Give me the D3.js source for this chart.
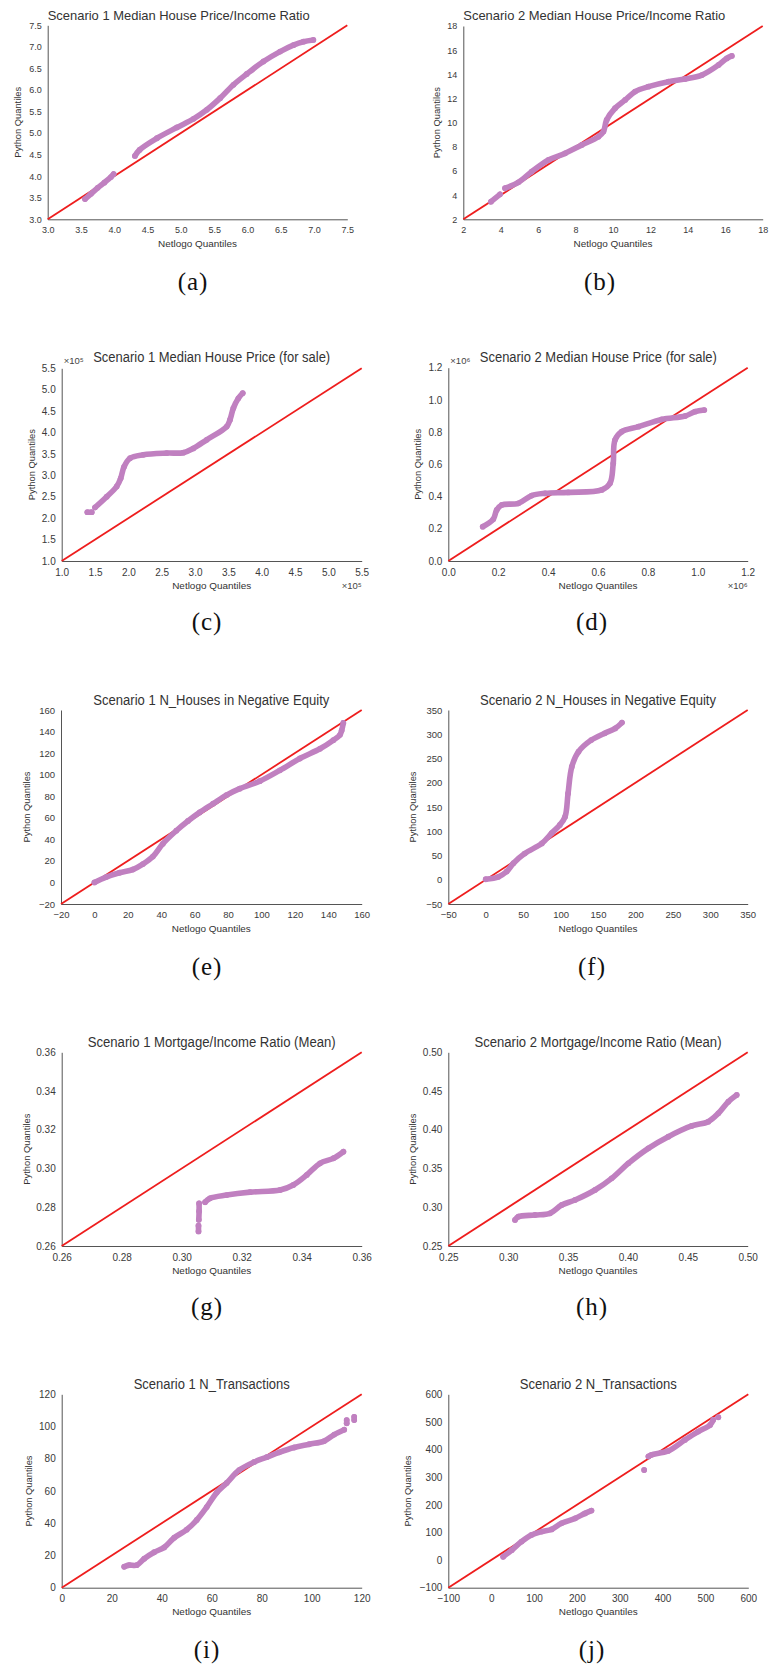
<!DOCTYPE html>
<html>
<head>
<meta charset="utf-8">
<script src="https://cdn.jsdelivr.net/npm/d3@7"></script>
<style>
body { margin: 0; background: #fff; }
svg { display: block; }
</style>
</head>
<body>
<div id="chart"></div>
<script>
// Q-Q points [netlogo quantile, python quantile], one inner array per unbroken run

// (a) Scenario 1 median house price / income ratio
var ratioS1 = [
  [[3.56,3.47],[3.65,3.59],[3.75,3.73],[3.85,3.85],[3.95,3.98],[3.99,4.05]],
  [[4.31,4.47],[4.38,4.61],[4.64,4.88],[4.94,5.13],[5.19,5.33],[5.39,5.54],[5.59,5.81],[5.79,6.12],
   [5.99,6.37],[6.24,6.66],[6.49,6.89],[6.69,7.04],[6.84,7.12],[6.99,7.16]]
];
// (b) Scenario 2 median house price / income ratio
var ratioS2 = [
  [[3.48,3.46],[3.96,4.07]],
  [[4.23,4.57],[4.94,5.06],[5.65,5.94],[6.55,6.91],[7.44,7.46],[8.33,8.15],[9.22,8.84],[9.49,9.26],
   [9.66,10.22],[10.11,11.19],[10.65,11.88],[11.18,12.57],[11.89,12.98],[12.96,13.39],[13.85,13.61],
   [14.75,13.94],[15.64,14.77],[16.08,15.32],[16.35,15.52]]
];
// (c) Scenario 1 median house price (for sale)
var priceS1 = [
  [[138500,214000],[145000,214000]],
  [[150000,225000],[167500,250000],[182500,274000],[188500,293000],[193500,320000],[202500,340000],
   [222500,348000],[257500,352000],[282500,353000],[297500,363000],[317500,383000],[347500,414000],
   [352500,430000],[357500,457000],[365000,480000],[371500,492000]]
];
// (d) Scenario 2 median house price (for sale)
var priceS2 = [
  [[138000,213000],[180000,259000],[194000,317000],[214000,348000],[281000,358000],[334000,406000],
   [388000,420000],[481000,426000],[615000,441000],[648000,482000],[661000,606000],[668000,751000],
   [695000,803000],[762000,834000],[855000,879000],[949000,900000],[989000,927000],[1026000,937000]]
];
// (e) Scenario 1 houses in negative equity
var negEqS1 = [
  [[0,0],[7,5],[15,9],[23,12],[29,17],[35,24],[41,36],[49,48],[56,57],[63,65],[71,73],[79,81],[87,87],
   [99,94],[111,104],[123,115],[135,124],[143,132],[147,137],[148,141],[149,148]]
];
// (f) Scenario 2 houses in negative equity
var negEqS2 = [
  [[0,1],[17,6],[28,17],[37,34],[52,54],[75,75],[88,96],[99,113],[106,130],[110,178],[115,233],
   [124,264],[141,288],[159,302],[173,312],[182,324]]
];
// (g) Scenario 1 mortgage / income ratio (mean)
var mortS1 = [
  [[0.3056,0.2675],[0.3056,0.2705]],
  [[0.3057,0.2735],[0.3058,0.2780],[0.3058,0.2820]],
  [[0.3078,0.2826],[0.3094,0.2846],[0.315,0.2863],[0.3228,0.2878],[0.3328,0.2889],[0.3372,0.2915],
   [0.3417,0.2967],[0.3461,0.3027],[0.3506,0.3053],[0.3539,0.3087]]
];
// (h) Scenario 2 mortgage / income ratio (mean)
var mortS2 = [
  [[0.3057,0.2836],[0.3085,0.2879],[0.3224,0.2900],[0.3349,0.2922],[0.3447,0.3029],[0.3558,0.3094],
   [0.3725,0.3223],[0.3864,0.3373],[0.4003,0.3567],[0.4170,0.3761],[0.4337,0.3911],[0.4532,0.4049],
   [0.4671,0.4105],[0.4755,0.4213],[0.4838,0.4363],[0.4908,0.4449]]
];
// (i) Scenario 1 transactions
var transS1 = [
  [[25,13],[27,14],[30,14],[33,18],[37,22],[41,25],[45,31],[50,36],[54,42],[58,50],[62,59],[66,65],
   [71,73],[77,78],[82,81],[87,84],[93,87],[99,89],[105,91],[109,95],[113,98]],
  [[114,102],[114,104]],
  [[117,104],[117,106]]
];
// (j) Scenario 2 transactions
var transS2 = [
  [[28,12],[48,36],[71,67],[94,91],[118,103],[141,111],[164,133],[196,151],[219,169],[234,179]],
  [[357,326]],
  [[367,375],[374,381],[413,395],[452,435],[483,465],[511,489],[518,507]],
  [[530,517]]
];

// tick values (same on both axes)
var ticksA = [3.0,3.5,4.0,4.5,5.0,5.5,6.0,6.5,7.0,7.5];
var ticksB = [2,4,6,8,10,12,14,16,18];
var ticksC = [100000,150000,200000,250000,300000,350000,400000,450000,500000,550000];
var ticksD = [0,200000,400000,600000,800000,1000000,1200000];
var ticksE = [-20,0,20,40,60,80,100,120,140,160];
var ticksF = [-50,0,50,100,150,200,250,300,350];
var ticksG = [0.26,0.28,0.30,0.32,0.34,0.36];
var ticksH = [0.25,0.30,0.35,0.40,0.45,0.50];
var ticksI = [0,20,40,60,80,100,120];
var ticksJ = [-100,0,100,200,300,400,500,600];

var titles = [
  "Scenario 1 Median House Price/Income Ratio",
  "Scenario 2 Median House Price/Income Ratio",
  "Scenario 1 Median House Price (for sale)",
  "Scenario 2 Median House Price (for sale)",
  "Scenario 1 N_Houses in Negative Equity",
  "Scenario 2 N_Houses in Negative Equity",
  "Scenario 1 Mortgage/Income Ratio (Mean)",
  "Scenario 2 Mortgage/Income Ratio (Mean)",
  "Scenario 1 N_Transactions",
  "Scenario 2 N_Transactions"
];
var captions = ["(a)","(b)","(c)","(d)","(e)","(f)","(g)","(h)","(i)","(j)"];

var f1 = d3.format(".1f"), f2 = d3.format(".2f"), fd = d3.format("d");

var panels = [
  {data: ratioS1, ticks: ticksA, fmt: f1, box: [47.7,25.3,347.3,219.3], tx: 47.7, ty: 20, anchor: "start", tlen: 262, tsize: 13, tick: 9, ylab: 18, cap: [193,290]},
  {data: ratioS2, ticks: ticksB, fmt: fd, box: [463.3,26,762.7,219.3], tx: 463.3, ty: 20, anchor: "start", tlen: 262, tsize: 13, tick: 9, ylab: 436.7, cap: [600,290]},
  {data: priceS1, ticks: ticksC, fmt: function(v) { return f1(v / 1e5); }, exp: "×10⁵", box: [61.7,368.3,361.7,561], tx: 211.7, ty: 362, anchor: "middle", tlen: 237, tsize: 14, tick: 10, ylab: 31.7, cap: [207,630]},
  {data: priceS2, ticks: ticksD, fmt: function(v) { return f1(v / 1e6); }, exp: "×10⁶", box: [448.3,367.7,747.7,561], tx: 598.3, ty: 362, anchor: "middle", tlen: 237, tsize: 14, tick: 10, ylab: 418.3, cap: [592,630]},
  {data: negEqS1, ticks: ticksE, fmt: fd, box: [61,710,361.7,904], tx: 211.3, ty: 705, anchor: "middle", tlen: 236, tsize: 14, tick: 9.5, ylab: 26.7, cap: [207,975]},
  {data: negEqS2, ticks: ticksF, fmt: fd, box: [448.3,710,747.7,904], tx: 598, ty: 705, anchor: "middle", tlen: 236, tsize: 14, tick: 9.5, ylab: 413.3, cap: [592,975]},
  {data: mortS1, ticks: ticksG, fmt: f2, box: [61.7,1052.3,361.7,1246], tx: 211.7, ty: 1047, anchor: "middle", tlen: 248, tsize: 14, tick: 10, ylab: 26.7, cap: [207,1315]},
  {data: mortS2, ticks: ticksH, fmt: f2, box: [448.3,1052.3,747.7,1246], tx: 598, ty: 1047, anchor: "middle", tlen: 247, tsize: 14, tick: 10, ylab: 413.3, cap: [592,1315]},
  {data: transS1, ticks: ticksI, fmt: fd, box: [61.7,1394.3,361.7,1587.7], tx: 211.7, ty: 1389, anchor: "middle", tlen: 156, tsize: 14, tick: 10, ylab: 29.3, cap: [207,1658]},
  {data: transS2, ticks: ticksJ, fmt: fd, box: [448.3,1394.3,748.3,1587.7], tx: 598.3, ty: 1389, anchor: "middle", tlen: 157, tsize: 14, tick: 10, ylab: 407.7, cap: [592,1658]}
];

var svg = d3.select("#chart").append("svg")
    .attr("width", 769)
    .attr("height", 1667)
    .style("font-family", "'Liberation Sans', Arial, sans-serif");

var purple = "#c080c0", red = "#ee1d1d";

panels.forEach(function(p, i) {
  var left = p.box[0], top = p.box[1], right = p.box[2], bottom = p.box[3];
  var lo = p.ticks[0], hi = p.ticks[p.ticks.length - 1];

  var x = d3.scaleLinear().domain([lo, hi]).range([left, right]);
  var y = d3.scaleLinear().domain([lo, hi]).range([bottom, top]);

  var g = svg.append("g");

  // axes: only left and bottom spines, no tick marks
  var xa = g.append("g")
      .attr("transform", "translate(0," + bottom + ")")
      .call(d3.axisBottom(x).tickValues(p.ticks).tickFormat(p.fmt).tickSize(0).tickSizeOuter(0).tickPadding(7.5));
  var ya = g.append("g")
      .attr("transform", "translate(" + left + ",0)")
      .call(d3.axisLeft(y).tickValues(p.ticks).tickFormat(p.fmt).tickSize(0).tickSizeOuter(0).tickPadding(6));
  [xa, ya].forEach(function(a) {
    a.select(".domain").attr("stroke", "#555").attr("stroke-width", 1);
    a.selectAll("text").attr("fill", "#3a3a3a").style("font-size", p.tick + "px").style("font-family", "'Liberation Sans', Arial, sans-serif");
  });

  // reference line y = x
  var diag = d3.line().x(function(d) { return x(d); }).y(function(d) { return y(d); });
  g.append("path")
      .datum([lo, hi])
      .attr("fill", "none")
      .attr("stroke", red)
      .attr("stroke-width", 1.8)
      .attr("d", diag);

  // quantile points
  var line = d3.line()
      .x(function(d) { return x(d[0]); })
      .y(function(d) { return y(d[1]); })
      .curve(d3.curveCatmullRom.alpha(0.5));
  p.data.forEach(function(seg) {
    g.append("path")
        .datum(seg)
        .attr("fill", "none")
        .attr("stroke", purple)
        .attr("stroke-width", 5.6)
        .attr("stroke-linecap", "round")
        .attr("stroke-linejoin", "round")
        .attr("d", line);
    g.selectAll(null)
        .data(seg)
      .enter().append("circle")
        .attr("cx", function(d) { return x(d[0]); })
        .attr("cy", function(d) { return y(d[1]); })
        .attr("r", 2.9)
        .attr("fill", purple);
  });

  // title
  g.append("text")
      .attr("x", p.tx)
      .attr("y", p.ty)
      .attr("text-anchor", p.anchor)
      .attr("textLength", p.tlen)
      .attr("lengthAdjust", "spacingAndGlyphs")
      .attr("fill", "#333")
      .style("font-size", p.tsize + "px")
      .text(titles[i]);

  // axis labels
  g.append("text")
      .attr("x", (left + right) / 2)
      .attr("y", bottom + 27.5)
      .attr("text-anchor", "middle")
      .attr("textLength", 79)
      .attr("lengthAdjust", "spacingAndGlyphs")
      .attr("fill", "#333")
      .style("font-size", "9.5px")
      .text("Netlogo Quantiles");
  g.append("text")
      .attr("transform", "translate(" + (p.ylab + 3) + "," + ((top + bottom) / 2) + ") rotate(-90)")
      .attr("text-anchor", "middle")
      .attr("textLength", 71)
      .attr("lengthAdjust", "spacingAndGlyphs")
      .attr("fill", "#333")
      .style("font-size", "9.5px")
      .text("Python Quantiles");

  // scale multipliers for the price panels
  if (p.exp) {
    g.append("text")
        .attr("x", left + 2)
        .attr("y", top - 4)
        .attr("fill", "#444")
        .style("font-size", "9.5px")
        .text(p.exp);
    g.append("text")
        .attr("x", right)
        .attr("y", bottom + 28)
        .attr("text-anchor", "end")
        .attr("fill", "#444")
        .style("font-size", "9.5px")
        .text(p.exp);
  }

  // sub-figure caption
  g.append("text")
      .attr("x", p.cap[0])
      .attr("y", p.cap[1])
      .attr("text-anchor", "middle")
      .attr("fill", "#111")
      .style("font-family", "'Liberation Serif', 'DejaVu Serif', serif")
      .style("font-size", "25px")
      .style("letter-spacing", "1px")
      .text(captions[i]);
});
</script>
</body>
</html>
